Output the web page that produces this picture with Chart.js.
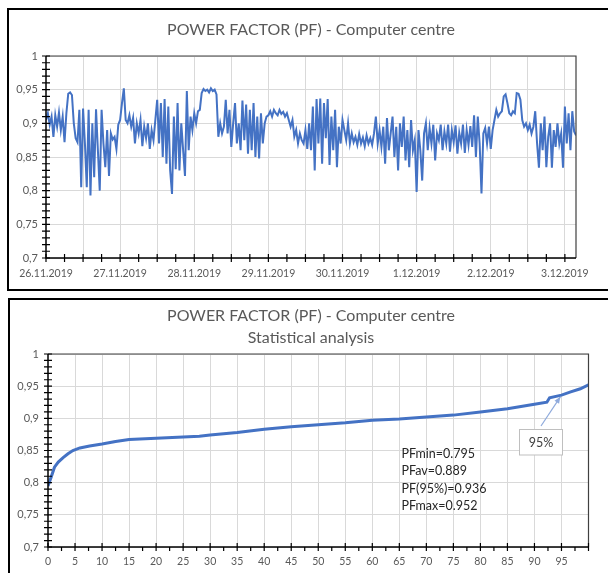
<!DOCTYPE html>
<html>
<head>
<meta charset="utf-8">
<script src="https://cdn.jsdelivr.net/npm/chart.js@4.4.0/dist/chart.umd.min.js"></script>
<style>
  html, body { margin: 0; padding: 0; background: #fff; }
  body { width: 608px; height: 573px; position: relative; overflow: hidden; }
  .frame { position: absolute; border: 2px solid #000; box-sizing: border-box; }
  #frame1 { left: 7px; top: 8px; width: 620px; height: 283px; }
  #frame2 { left: 8px; top: 298px; width: 620px; height: 300px; }
  canvas { position: absolute; left: 0; }
  #pfTime { top: 0; }
  #pfStat { top: 292px; }
</style>
</head>
<body>
<div class="frame" id="frame1"></div>
<div class="frame" id="frame2"></div>
<canvas id="pfTime" width="622" height="292"></canvas>
<canvas id="pfStat" width="622" height="281"></canvas>
<script>
// 測定データ
const dayLabels = ['26.11.2019', '27.11.2019', '28.11.2019', '29.11.2019', '30.11.2019', '1.12.2019', '2.12.2019', '3.12.2019'];
const yTickLabels = ['0,7', '0,75', '0,8', '0,85', '0,9', '0,95', '1'];
const pctLabels = ['0', '5', '10', '15', '20', '25', '30', '35', '40', '45', '50', '55', '60', '65', '70', '75', '80', '85', '90', '95'];

// PF 時系列 (0.025日ごと)
const sampleStep = 0.025;
const pfValues = [
  0.905, 0.915, 0.898, 0.91,
  0.88, 0.912, 0.895, 0.916, 0.89, 0.91, 0.872,
  0.915, 0.944, 0.946, 0.942, 0.9,
  0.878, 0.872,
  0.92, 0.805, 0.922, 0.87, 0.805, 0.92, 0.793, 0.9, 0.82, 0.921, 0.86, 0.8, 0.92, 0.87, 0.835, 0.89, 0.822,
  0.885, 0.876, 0.88, 0.862,
  0.898, 0.905, 0.93, 0.952, 0.905,
  0.9, 0.912, 0.895, 0.908, 0.87, 0.9, 0.885, 0.905, 0.866, 0.895, 0.878, 0.9, 0.862, 0.89, 0.875, 0.905,
  0.935, 0.87, 0.93, 0.85, 0.936, 0.84, 0.925, 0.83, 0.795, 0.91, 0.832, 0.93, 0.83, 0.9, 0.86, 0.822, 0.948,
  0.86, 0.91, 0.89, 0.915, 0.9, 0.918, 0.92,
  0.945, 0.951, 0.948, 0.95, 0.946, 0.952, 0.948, 0.95, 0.943,
  0.88, 0.9, 0.885, 0.895, 0.935, 0.885,
  0.92, 0.865, 0.9, 0.93, 0.87, 0.9, 0.86, 0.934, 0.875, 0.928, 0.855, 0.92, 0.86, 0.93, 0.85, 0.91, 0.848, 0.915, 0.87, 0.9, 0.91,
  0.912, 0.918, 0.91, 0.92, 0.915, 0.912, 0.92, 0.914, 0.917, 0.91, 0.915, 0.905,
  0.895, 0.905, 0.88, 0.89, 0.87, 0.885,
  0.875, 0.87, 0.89, 0.862,
  0.9, 0.86, 0.925, 0.83, 0.936, 0.87, 0.937, 0.84, 0.93, 0.878, 0.936, 0.838, 0.91, 0.86, 0.92, 0.835, 0.895, 0.87, 0.905,
  0.89, 0.875, 0.9, 0.87, 0.885, 0.872, 0.88, 0.868, 0.884, 0.87, 0.879, 0.866, 0.882, 0.87, 0.878, 0.868, 0.885,
  0.91, 0.87, 0.89, 0.865, 0.895, 0.84, 0.908, 0.86, 0.885, 0.91, 0.85, 0.895, 0.83, 0.9, 0.865, 0.91, 0.845, 0.89, 0.835, 0.905, 0.86, 0.875, 0.798, 0.89, 0.86, 0.815,
  0.885, 0.9, 0.86, 0.893, 0.87, 0.898, 0.845, 0.885, 0.875, 0.898, 0.86, 0.888, 0.87, 0.898, 0.858, 0.89, 0.872, 0.897, 0.855, 0.886, 0.87, 0.898, 0.856, 0.89, 0.868, 0.896, 0.865,
  0.912, 0.85, 0.91, 0.87, 0.796, 0.885,
  0.893, 0.87, 0.895, 0.862, 0.89,
  0.905, 0.92, 0.91, 0.915, 0.918,
  0.94, 0.943, 0.93, 0.915,
  0.912, 0.918, 0.915,
  0.945, 0.944, 0.935,
  0.905, 0.895, 0.9, 0.89, 0.898, 0.885, 0.895,
  0.918, 0.87, 0.834, 0.9, 0.86, 0.91, 0.835, 0.88, 0.9, 0.834, 0.89, 0.865, 0.9, 0.87, 0.885, 0.834, 0.925, 0.87, 0.915, 0.86, 0.918, 0.888, 0.882
];

// 累積分布 (%)
const pctPoints = [0, 0.6, 1.2, 1.9, 2.8, 3.7, 4.6, 5.9, 7.7, 10, 12.5, 15, 20, 25, 28, 30, 35, 40, 45, 50, 55, 60, 65, 70, 75, 80, 85, 90, 92.3, 92.8, 95, 96.7, 98.5, 100];
const pfSorted = [0.795, 0.809, 0.824, 0.832, 0.839, 0.845, 0.85, 0.854, 0.857, 0.86, 0.864, 0.867, 0.869, 0.871, 0.872, 0.874, 0.878, 0.883, 0.887, 0.89, 0.893, 0.897, 0.899, 0.902, 0.905, 0.91, 0.915, 0.922, 0.925, 0.932, 0.936, 0.941, 0.946, 0.952];

const statNames = ['PFmin', 'PFav', 'PF(95%)', 'PFmax'];
const statValues = ['0.795', '0.889', '0.936', '0.952'];
const markPct = 95;
const markPf = 0.936;

const FONT = 'Lato, "Open Sans", sans-serif';
const LINE_BLUE = '#4472c4';
const GRID = '#d9d9d9';

const isStep = (v, step) => Math.abs(v / step - Math.round(v / step)) < 1e-6;

function tickList(from, to, step) {
  const out = [];
  for (let k = 0; from + k * step <= to + 1e-9; k++) out.push({ value: +(from + k * step).toFixed(4) });
  return out;
}

// 軸の目盛り(十字)と枠
const axisMarks = {
  id: 'axisMarks',
  afterDraw(chart, args, opts) {
    const { ctx, chartArea: a, scales: { x, y } } = chart;
    ctx.save();
    ctx.strokeStyle = '#404040';
    ctx.lineWidth = 1.2;
    ctx.beginPath();
    ctx.moveTo(a.left, a.top);
    ctx.lineTo(a.right, a.top);
    ctx.lineTo(a.right, a.bottom);
    ctx.stroke();
    ctx.strokeStyle = '#000';
    ctx.lineWidth = 1.5;
    ctx.beginPath();
    ctx.moveTo(a.left, a.top);
    ctx.lineTo(a.left, a.bottom);
    ctx.lineTo(a.right, a.bottom);
    ctx.stroke();
    ctx.lineWidth = 1.2;
    ctx.beginPath();
    y.ticks.forEach(t => {
      const py = y.getPixelForValue(t.value);
      ctx.moveTo(a.left - 4, py);
      ctx.lineTo(a.left + 4, py);
    });
    x.ticks.forEach(t => {
      const px = x.getPixelForValue(t.value);
      const major = isStep(t.value, opts.xMajor);
      ctx.moveTo(px, a.bottom - (major ? 4 : opts.minorUp));
      ctx.lineTo(px, a.bottom + 4);
    });
    ctx.stroke();
    ctx.restore();
  }
};

function yAxis(width, pad) {
  return {
    min: 0.7,
    max: 1,
    afterFit: s => { s.width = width; },
    afterBuildTicks: s => { s.ticks = tickList(0.7, 1, 0.01); },
    ticks: {
      autoSkip: false,
      padding: pad,
      color: '#595959',
      font: { family: FONT, size: 11 },
      callback: v => isStep(v - 0.7, 0.05) ? yTickLabels[Math.round((v - 0.7) / 0.05)] : ''
    },
    grid: {
      drawTicks: false,
      color: c => isStep(c.tick.value, 0.05) ? GRID : 'rgba(0,0,0,0)'
    },
    border: { display: false }
  };
}

// 右側の余白用 (表示なし)
function spacerAxis(width) {
  return {
    position: 'right',
    afterFit: s => { s.width = width; },
    ticks: { display: false },
    grid: { display: false },
    border: { display: false }
  };
}

// 時系列グラフ
const timeData = pfValues.map((v, i) => ({ x: i * sampleStep, y: v }));
new Chart(document.getElementById('pfTime'), {
  type: 'line',
  data: {
    datasets: [{
      data: timeData,
      borderColor: LINE_BLUE,
      borderWidth: 2,
      pointRadius: 0,
      tension: 0
    }]
  },
  options: {
    responsive: false,
    animation: false,
    layout: { padding: 0 },
    plugins: {
      legend: { display: false },
      tooltip: { enabled: false },
      title: {
        display: true,
        text: 'POWER FACTOR (PF) - Computer centre',
        color: '#595959',
        font: { family: FONT, size: 16, weight: 'normal', lineHeight: '18px' },
        padding: { top: 21, bottom: 17 }
      },
      axisMarks: { xMajor: 0.5, minorUp: 4 }
    },
    scales: {
      x: {
        type: 'linear',
        min: 0,
        max: 7.15,
        afterFit: s => { s.height = 34; },
        afterBuildTicks: s => { s.ticks = tickList(0, 7, 0.25); },
        ticks: {
          autoSkip: false,
          maxRotation: 0,
          padding: 9,
          color: '#595959',
          font: { family: FONT, size: 10.5 },
          callback: v => isStep(v, 1) ? dayLabels[Math.round(v)] : ''
        },
        grid: {
          drawTicks: false,
          color: c => isStep(c.tick.value, 0.5) && c.tick.value > 0 ? GRID : 'rgba(0,0,0,0)'
        },
        border: { display: false }
      },
      y: yAxis(46, 8),
      yR: spacerAxis(46)
    }
  },
  plugins: [axisMarks]
});

// 95%表示と統計値
const statNotes = {
  id: 'statNotes',
  afterDraw(chart) {
    const { ctx, scales: { x, y } } = chart;
    ctx.save();
    // 矢印
    const tx = x.getPixelForValue(markPct);
    const ty = y.getPixelForValue(markPf);
    const sx = 541, sy = 134;
    const ang = Math.atan2(ty - sy, tx - sx);
    const ex = tx - Math.cos(ang) * 2, ey = ty - Math.sin(ang) * 2;
    ctx.strokeStyle = '#8faadc';
    ctx.fillStyle = '#8faadc';
    ctx.lineWidth = 1.2;
    ctx.beginPath();
    ctx.moveTo(sx, sy);
    ctx.lineTo(ex, ey);
    ctx.stroke();
    ctx.beginPath();
    ctx.moveTo(ex, ey);
    ctx.lineTo(ex - 7 * Math.cos(ang - 0.4), ey - 7 * Math.sin(ang - 0.4));
    ctx.lineTo(ex - 7 * Math.cos(ang + 0.4), ey - 7 * Math.sin(ang + 0.4));
    ctx.closePath();
    ctx.fill();
    // ラベル枠
    ctx.fillStyle = '#fff';
    ctx.fillRect(519.5, 137.5, 43, 25.5);
    ctx.strokeStyle = '#bfbfbf';
    ctx.lineWidth = 1;
    ctx.strokeRect(519.5, 137.5, 43, 25.5);
    ctx.fillStyle = '#404040';
    ctx.font = '12.5px ' + FONT;
    ctx.textAlign = 'center';
    ctx.textBaseline = 'middle';
    ctx.fillText(markPct + '%', 541, 151);
    // 統計値
    ctx.fillStyle = '#262626';
    ctx.textAlign = 'left';
    statNames.forEach((n, i) => {
      ctx.fillText(n + '=' + statValues[i], 401.5, 162 + i * 17.3);
    });
    ctx.restore();
  }
};

// 統計解析グラフ
new Chart(document.getElementById('pfStat'), {
  type: 'line',
  data: {
    datasets: [{
      data: pctPoints.map((p, i) => ({ x: p, y: pfSorted[i] })),
      borderColor: LINE_BLUE,
      borderWidth: 3,
      pointRadius: 0,
      tension: 0
    }]
  },
  options: {
    responsive: false,
    animation: false,
    layout: { padding: 0 },
    plugins: {
      legend: { display: false },
      tooltip: { enabled: false },
      title: {
        display: true,
        text: ['POWER FACTOR (PF) - Computer centre', 'Statistical analysis'],
        color: '#595959',
        font: { family: FONT, size: 16, weight: 'normal', lineHeight: '22px' },
        padding: { top: 13, bottom: 5 }
      },
      axisMarks: { xMajor: 5, minorUp: 0 }
    },
    scales: {
      x: {
        type: 'linear',
        min: 0,
        max: 100,
        afterFit: s => { s.height = 26; },
        afterBuildTicks: s => { s.ticks = tickList(0, 100, 2.5); },
        ticks: {
          autoSkip: false,
          maxRotation: 0,
          padding: 8,
          color: '#595959',
          font: { family: FONT, size: 10.5 },
          callback: v => isStep(v, 5) && v < 100 ? pctLabels[Math.round(v / 5)] : ''
        },
        grid: {
          drawTicks: false,
          color: c => isStep(c.tick.value, 5) && c.tick.value > 0 ? GRID : 'rgba(0,0,0,0)'
        },
        border: { display: false }
      },
      y: yAxis(48, 9),
      yR: spacerAxis(33.5)
    }
  },
  plugins: [axisMarks, statNotes]
});
</script>
</body>
</html>
